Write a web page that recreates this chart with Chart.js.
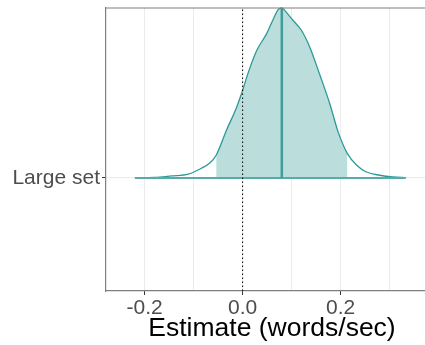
<!DOCTYPE html>
<html>
<head>
<meta charset="utf-8">
<script src="https://cdn.jsdelivr.net/npm/chart.js@4/dist/chart.umd.min.js"></script>
<style>
  html, body { margin: 0; padding: 0; background: #fff; overflow: hidden; }
  #wrap { width: 438px; height: 345px; }
</style>
</head>
<body>
<div id="wrap"><canvas id="c" width="438" height="345"></canvas></div>
<script>
// Posterior density of the effect (words/sec), scaled so the mode = 1
const category = 'Large set';
const densityX = [-0.220, -0.180, -0.145, -0.111, -0.087, -0.067, -0.054, -0.033, -0.012, 0.000,
                  0.012, 0.029, 0.049, 0.063, 0.073, 0.080, 0.086, 0.100, 0.120, 0.137,
                  0.158, 0.178, 0.195, 0.214, 0.233, 0.253, 0.280, 0.307, 0.333];
const densityY = [0.000, 0.003, 0.012, 0.022, 0.053, 0.088, 0.134, 0.281, 0.418, 0.516,
                  0.624, 0.751, 0.849, 0.937, 0.992, 1.000, 0.986, 0.937, 0.869, 0.771,
                  0.604, 0.437, 0.271, 0.143, 0.075, 0.035, 0.016, 0.006, 0.002];
const intervalLow = -0.054;
const intervalHigh = 0.214;
const median = 0.080;
const referenceValue = 0.0;
const majorTicks = [-0.2, 0.0, 0.2];
const minorTicks = [-0.1, 0.1, 0.3];

const curve = densityX.map((x, i) => ({ x: x, y: densityY[i] }));
const shaded = curve.filter(p => p.x >= intervalLow - 1e-9 && p.x <= intervalHigh + 1e-9);
const medianHeight = densityY[densityX.indexOf(median)];
const allTicks = majorTicks.concat(minorTicks).sort((a, b) => a - b);
const isMajor = v => majorTicks.some(m => Math.abs(m - v) < 1e-9);

const yMin = -0.665, yMax = 1.0;

const font = 'Liberation Sans, Arial, Helvetica, sans-serif';

// Top edge of the panel box
const panelTop = {
  id: 'panelTop',
  afterDraw(chart) {
    const { ctx, chartArea } = chart;
    ctx.save();
    ctx.strokeStyle = '#7f7f7f';
    ctx.lineWidth = 1.2;
    ctx.beginPath();
    ctx.moveTo(chartArea.left, chartArea.top);
    ctx.lineTo(chartArea.right, chartArea.top);
    ctx.stroke();
    ctx.restore();
  }
};

new Chart(document.getElementById('c'), {
  type: 'line',
  data: {
    datasets: [
      { // credible interval shading
        data: shaded,
        fill: 'origin',
        backgroundColor: '#bbdddc',
        borderWidth: 0,
        pointRadius: 0,
        cubicInterpolationMode: 'monotone',
        order: 5
      },
      { // density outline
        data: curve,
        fill: false,
        borderColor: '#2b9a96',
        borderWidth: 1.3,
        pointRadius: 0,
        cubicInterpolationMode: 'monotone',
        clip: false,
        order: 4
      },
      { // slab baseline
        data: [{ x: densityX[0], y: 0 }, { x: densityX[densityX.length - 1], y: 0 }],
        borderColor: '#5aaba7',
        borderWidth: 2,
        pointRadius: 0,
        order: 3
      },
      { // median
        data: [{ x: median, y: 0 }, { x: median, y: medianHeight }],
        borderColor: '#3f9d99',
        borderWidth: 2.5,
        pointRadius: 0,
        clip: false,
        order: 2
      },
      { // zero reference
        data: [{ x: referenceValue, y: yMin }, { x: referenceValue, y: yMax }],
        borderColor: '#000',
        borderWidth: 1,
        borderDash: [1.5, 2.5],
        pointRadius: 0,
        order: 1
      }
    ]
  },
  options: {
    responsive: false,
    animation: false,
    layout: { padding: { top: 8, left: 0, right: 0, bottom: 0 } },
    plugins: { legend: { display: false }, tooltip: { enabled: false } },
    scales: {
      x: {
        type: 'linear',
        min: -0.279,
        max: 0.399,
        afterBuildTicks(scale) { scale.ticks = allTicks.map(v => ({ value: v })); },
        afterFit(scale) { scale.height = 54; scale.paddingLeft = 0; scale.paddingRight = 0; },
        ticks: {
          autoSkip: false,
          maxRotation: 0,
          padding: 1,
          color: '#4d4d4d',
          font: { family: font, size: 21 },
          callback: v => isMajor(v) ? v.toFixed(1) : ''
        },
        grid: {
          color: '#ebebeb',
          lineWidth: 1,
          tickLength: 4,
          tickColor: ctx => (ctx.tick && isMajor(ctx.tick.value)) ? '#333333' : 'rgba(0,0,0,0)'
        },
        border: { display: true, color: '#7f7f7f', width: 1.2 },
        title: {
          display: true,
          text: 'Estimate (words/sec)',
          color: '#000',
          font: { family: font, size: 26.5 },
          padding: { top: 0, bottom: 0 }
        }
      },
      y: {
        type: 'linear',
        min: yMin,
        max: yMax,
        afterBuildTicks(scale) { scale.ticks = [{ value: 0 }]; },
        afterFit(scale) { scale.width = 106; scale.paddingTop = 0; scale.paddingBottom = 0; },
        ticks: {
          padding: 2,
          color: '#4d4d4d',
          font: { family: font, size: 21 },
          callback: () => category
        },
        grid: { color: '#ebebeb', lineWidth: 1, tickLength: 4, tickColor: '#333333' },
        border: { display: true, color: '#7f7f7f', width: 1.2 }
      }
    }
  },
  plugins: [panelTop]
});
</script>
</body>
</html>
